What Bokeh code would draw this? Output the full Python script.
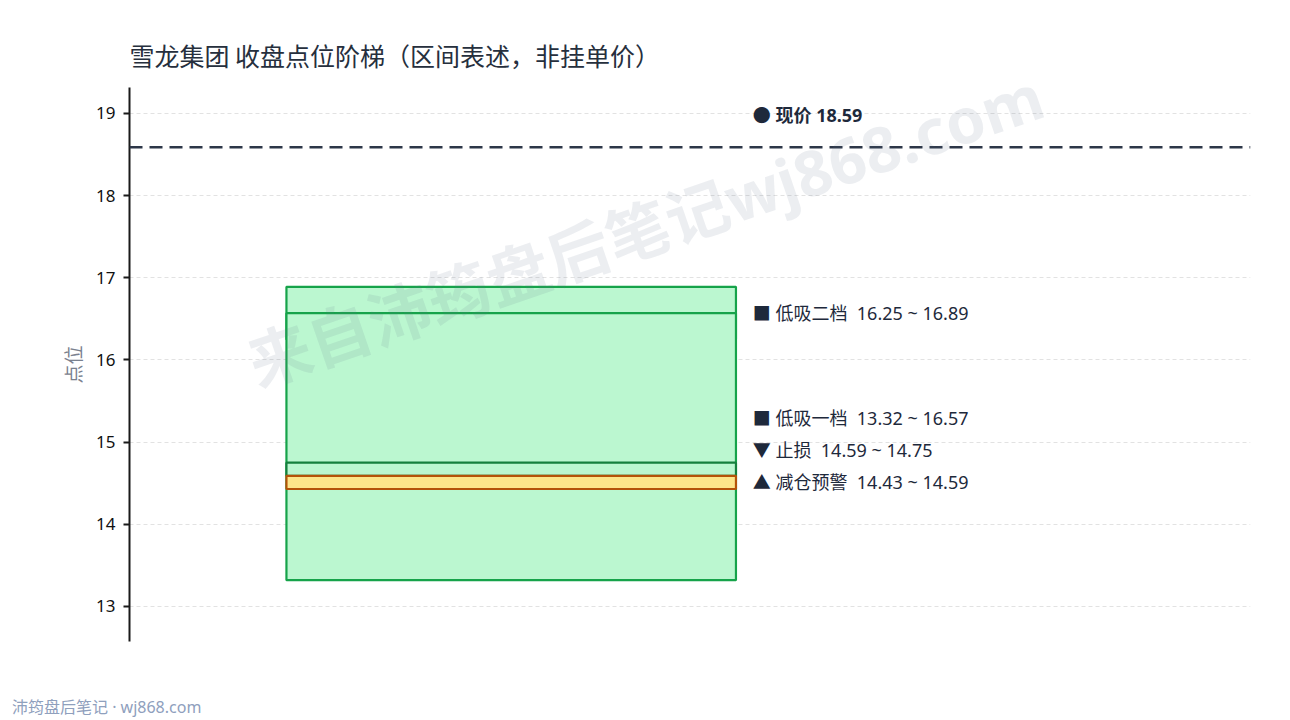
import math
from bokeh.plotting import figure
from bokeh.models import ColumnDataSource, Span, Label, FixedTicker, Range1d, Div
from bokeh.layouts import column
from bokeh.core.properties import value
from bokeh.embed import file_html
from bokeh.resources import INLINE

# ---- data ----
title_text = "雪龙集团 收盘点位阶梯（区间表述，非挂单价）"
zone_names = ["低吸二档", "低吸一档", "止损", "减仓预警"]
zone_low = [16.25, 13.32, 14.59, 14.43]
zone_high = [16.89, 16.57, 14.75, 14.59]
zone_symbol = ["■", "■", "▼", "▲"]
zone_fill = ["#bbf7d0", "#bbf7d0", "#bbf7d0", "#fde68a"]
zone_line = ["#16a34a", "#16a34a", "#15803d", "#b45309"]
current_price = 18.59
y_ticks = [13, 14, 15, 16, 17, 18, 19]
footer_text = "沛筠盘后笔记 · wj868.com"
watermark_text = "来自沛筠盘后笔记wj868.com"

FONT = "Noto Sans, Noto Sans CJK SC"
CJK = "Noto Sans CJK SC"

# ---- layout constants ----
X0, X1 = 0.0, 1.0
Y0, Y1 = 12.574, 19.316
BAR_L, BAR_R = 0.14, 0.541
LABEL_X = 0.556
LABEL_GAP = 0.39  # min spacing between labels, in data units

fig = figure(width=1274, height=699, output_backend="svg", toolbar_location=None,
             x_range=Range1d(X0, X1), y_range=Range1d(Y0, Y1),
             min_border_left=129, min_border_right=24, min_border_top=87,
             min_border_bottom=58)
fig.outline_line_color = None
fig.background_fill_color = "white"
fig.border_fill_color = "white"

fig.title.text = title_text
fig.title.text_font = CJK
fig.title.text_font_size = "25px"
fig.title.text_font_style = "normal"
fig.title.text_color = "#262f3d"
fig.title.align = "left"
fig.title.standoff = 30

fig.xaxis.visible = False
fig.xgrid.visible = False
fig.ygrid.grid_line_color = "#e2e2e2"
fig.ygrid.grid_line_dash = "4 3"
fig.ygrid.grid_line_width = 1

ya = fig.yaxis[0]
ya.ticker = FixedTicker(ticks=y_ticks)
ya.axis_line_color = "#1a1a1a"
ya.axis_line_width = 2
ya.major_tick_line_color = "#1a1a1a"
ya.major_tick_line_width = 2
ya.major_tick_out = 6
ya.major_tick_in = 0
ya.minor_tick_line_color = None
ya.major_label_text_font = FONT
ya.major_label_text_font_size = "17px"
ya.major_label_text_color = "#111111"
ya.major_label_standoff = 8
ya.axis_label = "点位"
ya.axis_label_text_font = CJK
ya.axis_label_text_font_size = "19px"
ya.axis_label_text_font_style = "normal"
ya.axis_label_text_color = "#7a818e"
ya.axis_label_standoff = 7

# zones
src = ColumnDataSource(dict(
    left=[BAR_L] * len(zone_names), right=[BAR_R] * len(zone_names),
    bottom=zone_low, top=zone_high, fill=zone_fill, line=zone_line))
fig.quad(left="left", right="right", bottom="bottom", top="top", source=src,
         fill_color="fill", line_color="line", line_width=2.2)

# current price line
fig.add_layout(Span(location=current_price, dimension="width", line_color="#2d3748",
                    line_width=2.5, line_dash="13 7"))

# zone labels with simple dodge (bottom-up)
mids = [(lo + hi) / 2 for lo, hi in zip(zone_low, zone_high)]
order = sorted(range(len(mids)), key=lambda i: mids[i])
label_y = [0.0] * len(mids)
prev = None
for i in order:
    y = mids[i] if prev is None else max(mids[i], prev + LABEL_GAP)
    label_y[i] = y
    prev = y
texts = [f"{s} {n}\u00a0 {lo:.2f} ~ {hi:.2f}" for s, n, lo, hi in
         zip(zone_symbol, zone_names, zone_low, zone_high)]
lsrc = ColumnDataSource(dict(x=[LABEL_X] * len(texts), y=label_y, t=texts))
fig.text(x="x", y="y", text="t", source=lsrc, text_font=value(FONT),
         text_font_size="18px", text_color="#1e293b", text_baseline="middle",
         text_align="left")

# current price label
fig.add_layout(Label(x=LABEL_X, y=current_price + LABEL_GAP,
                     text=f"● 现价 {current_price:.2f}", text_font=FONT,
                     text_font_size="18px", text_font_style="bold",
                     text_color="#1e293b", text_baseline="middle", text_align="left"))

# watermark
fig.add_layout(Label(x=X0 + 0.46 * (X1 - X0), y=Y0 + 0.745 * (Y1 - Y0),
                     text=watermark_text, text_font=FONT, text_font_size="63px",
                     text_font_style="bold", text_color="#64748b", text_alpha=0.12,
                     angle=math.radians(19), text_align="center",
                     text_baseline="middle"))

# footer
footer = Div(text=footer_text, width=400, height=16, margin=(0, 0, 0, 12),
             styles={"font-family": "'Noto Sans', 'Noto Sans CJK SC', sans-serif",
                     "font-size": "16px", "color": "#8fa0bd",
                     "line-height": "16px", "white-space": "nowrap"})

page = column(fig, footer, spacing=0)
open("out.html", "w").write(file_html(page, INLINE))
